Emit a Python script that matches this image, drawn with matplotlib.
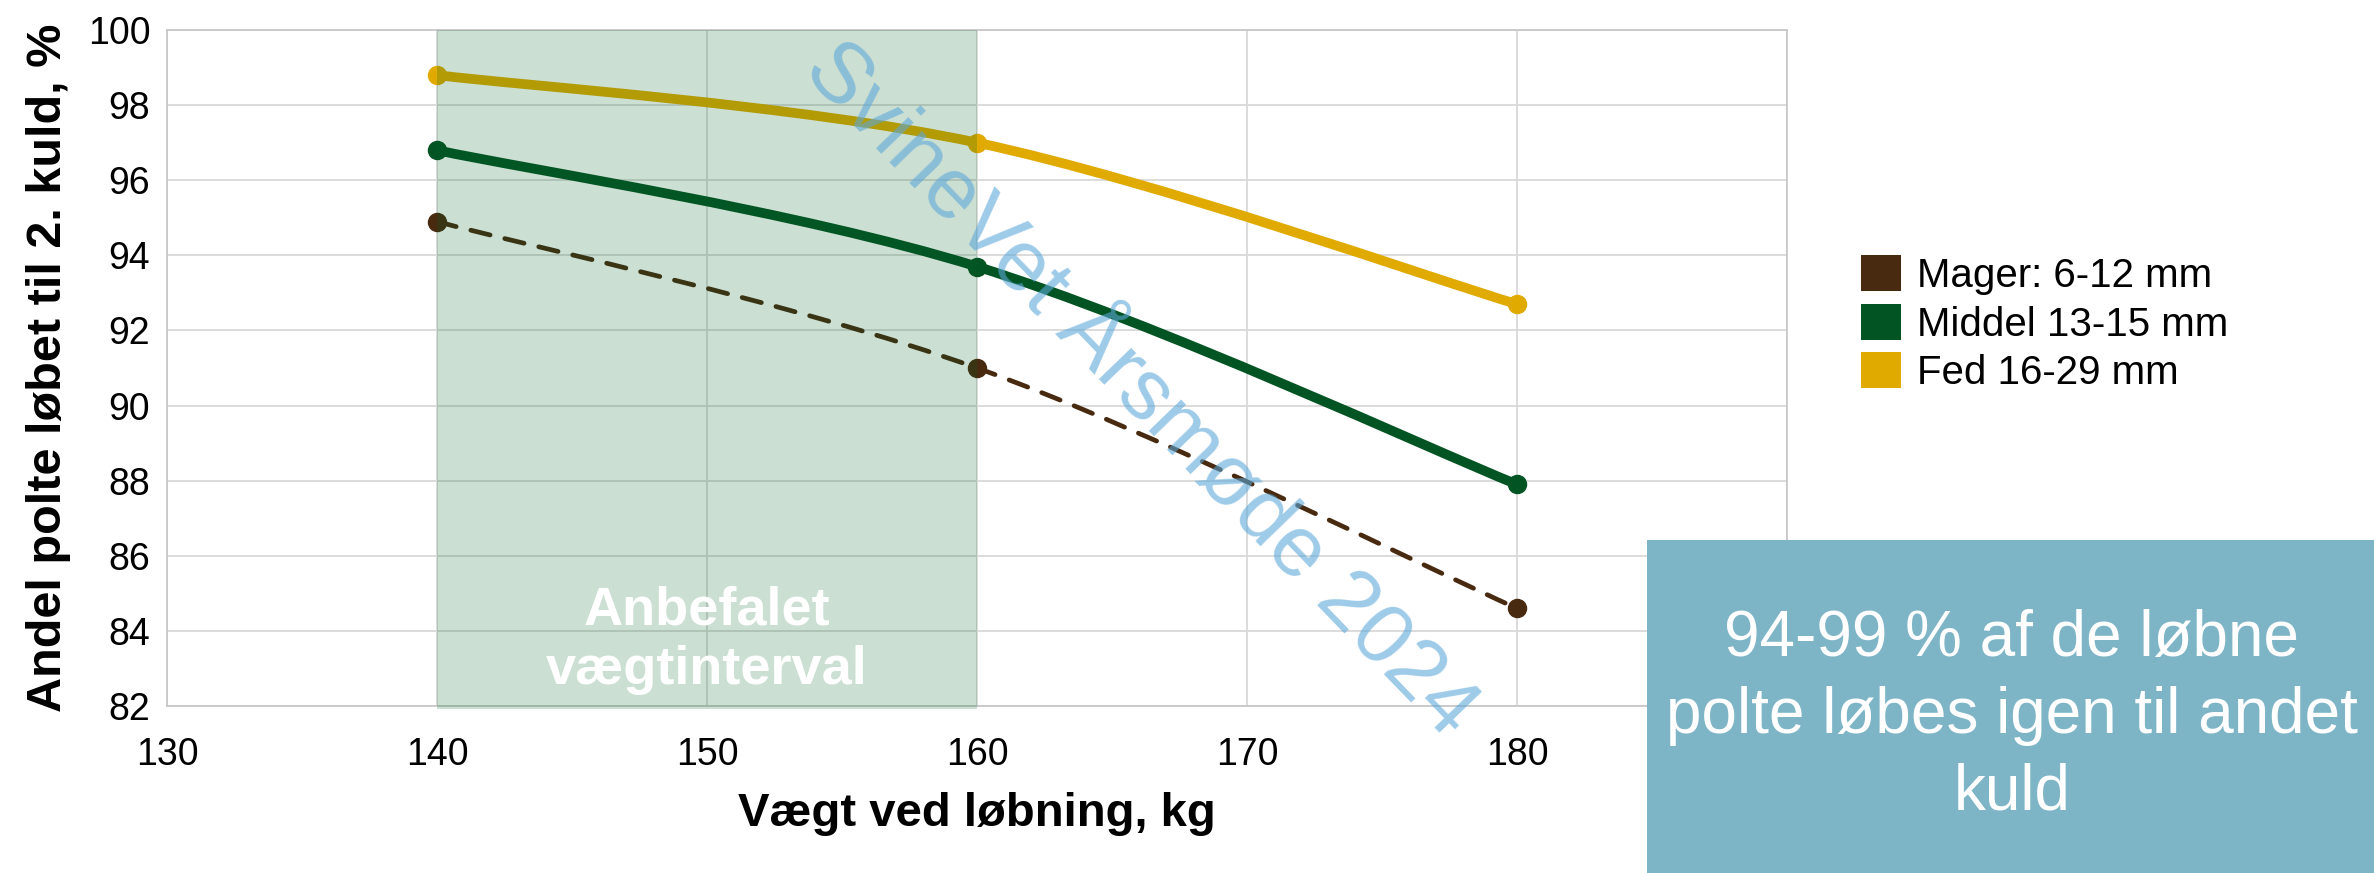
import matplotlib
matplotlib.use('Agg')
import matplotlib.pyplot as plt
from matplotlib.path import Path
from matplotlib.patches import PathPatch, Patch, Rectangle

plt.rcParams['font.family'] = ['Liberation Sans', 'DejaVu Sans']

# ---- data ----
weights = [140, 160, 180]
mager = [94.9, 91.0, 84.6]
middel = [96.8, 93.7, 87.9]
fed = [98.8, 97.0, 92.7]

series_names = ['Mager: 6-12 mm', 'Middel 13-15 mm', 'Fed 16-29 mm']
series_colors = ['#482A10', '#035423', '#E0AA00']

x_ticks = [130, 140, 150, 160, 170, 180, 190]
x_ticklabels = ['130', '140', '150', '160', '170', '180', '']   # 190 sits under the info box
y_ticks = [82, 84, 86, 88, 90, 92, 94, 96, 98, 100]
band = (140, 160)


def smooth_path(xs, ys):
    """Bezier path through the points, same style as a spreadsheet 'smoothed line'."""
    pts = list(zip(xs, ys))
    n = len(pts)
    verts = [pts[0]]
    codes = [Path.MOVETO]
    for i in range(n - 1):
        p0 = pts[i - 1] if i > 0 else pts[i]
        p1 = pts[i]
        p2 = pts[i + 1]
        p3 = pts[i + 2] if i + 2 < n else pts[i + 1]
        c1 = (p1[0] + (p2[0] - p0[0]) / 6, p1[1] + (p2[1] - p0[1]) / 6)
        c2 = (p2[0] - (p3[0] - p1[0]) / 6, p2[1] - (p3[1] - p1[1]) / 6)
        verts += [c1, c2, p2]
        codes += [Path.CURVE4] * 3
    return Path(verts, codes)


fig = plt.figure(figsize=(23.74, 8.73), dpi=100)
ax = fig.add_axes([167 / 2374, 1 - 706 / 873, 1620 / 2374, 676 / 873])

ax.set_xlim(130, 190)
ax.set_ylim(82, 100)
ax.set_xticks(x_ticks)
ax.set_xticklabels(x_ticklabels)
ax.set_yticks(y_ticks)
ax.tick_params(length=0, labelsize=27)
ax.tick_params(axis='y', pad=12)
ax.tick_params(axis='x', pad=22)
ax.grid(True, color='#D9D9D9', linewidth=1.3)
ax.set_axisbelow(True)
for sp in ax.spines.values():
    sp.set_color('#C8C8C8')
    sp.set_linewidth(1.3)

# ---- series ----
styles = [dict(lw=3.4, ls=(0, (4.2, 3.2))), dict(lw=7.0, ls='-'), dict(lw=7.0, ls='-')]
for vals, col, st in zip([mager, middel, fed], series_colors, styles):
    ax.add_patch(PathPatch(smooth_path(weights, vals), facecolor='none',
                           edgecolor=col, lw=st['lw'], linestyle=st['ls'],
                           capstyle='round', zorder=3))
    ax.plot(weights, vals, 'o', color=col, markersize=13, zorder=4)

# recommended weight interval, drawn over the lines
ax.axvspan(band[0], band[1], ymin=-0.005, ymax=1, facecolor=(0, 95 / 255, 35 / 255),
           alpha=0.2, lw=0, zorder=5, clip_on=False)
ax.text(150, 83.75, 'Anbefalet\nvægtinterval', color='white', fontsize=39,
        fontweight='bold', ha='center', va='center', linespacing=1.22, zorder=6)

ax.set_xlabel('Vægt ved løbning, kg', fontsize=34, fontweight='bold', labelpad=14)
ax.set_ylabel('Andel polte løbet til 2. kuld, %', fontsize=35, fontweight='bold', labelpad=12)

# ---- legend ----
handles = [Patch(facecolor=c, edgecolor='none') for c in series_colors]
fig.legend(handles, series_names, loc='upper left',
           bbox_to_anchor=(1861 / 2374, 1 - 255 / 873), frameon=False,
           fontsize=29, handlelength=1.0, handleheight=1.0, handletextpad=0.4,
           labelspacing=0.22, borderpad=0, borderaxespad=0)

# ---- watermark ----
fig.text(1140 / 2374, 1 - 390 / 873, 'SvineVet Årsmøde 2024', fontsize=62,
         color='#5CA8D9', alpha=0.6, rotation=-46, rotation_mode='anchor',
         ha='center', va='center', zorder=8)

# ---- info box ----
fig.add_artist(Rectangle((1647 / 2374, 0), 1 - 1647 / 2374, 1 - 540 / 873,
                         transform=fig.transFigure, facecolor='#7DB5C6',
                         edgecolor='none', zorder=10))
fig.text(2012 / 2374, 1 - 716 / 873,
         '94-99 % af de løbne\npolte løbes igen til andet\nkuld',
         fontsize=46, color='white', ha='center', va='center',
         linespacing=1.36, zorder=11)

fig.savefig('out.png', dpi=100)
